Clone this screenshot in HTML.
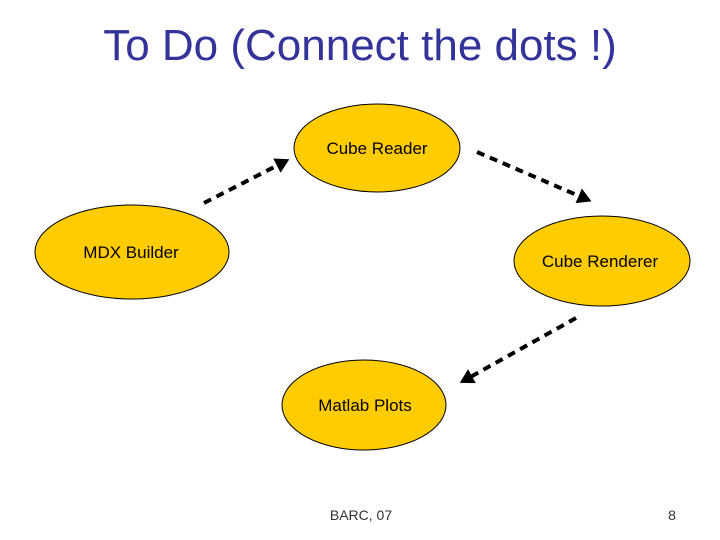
<!DOCTYPE html>
<html><head><meta charset="utf-8"><style>
html,body{margin:0;padding:0;background:#fff;}
svg{display:block;}
</style></head><body>
<svg width="720" height="540" viewBox="0 0 720 540" xmlns="http://www.w3.org/2000/svg" font-family="Liberation Sans, Arial, sans-serif">
<defs>
<marker id="a" markerWidth="4" markerHeight="4" refX="2" refY="2" orient="auto" markerUnits="strokeWidth">
<path d="M0,0 L3.5,2 L0,4 z" fill="#000"/></marker>
</defs>
<text x="360" y="60" text-anchor="middle" font-size="44" fill="#333399">To Do (Connect the dots !)</text>
<g fill="#FFCC00" stroke="#000" stroke-width="1">
<ellipse cx="377" cy="148" rx="83" ry="44"/>
<ellipse cx="132" cy="252" rx="97" ry="47"/>
<ellipse cx="602" cy="261" rx="88" ry="45"/>
<ellipse cx="364" cy="405" rx="82" ry="45"/>
</g>
<g font-size="17" fill="#000" text-anchor="middle">
<text x="377" y="154">Cube Reader</text>
<text x="131" y="258">MDX Builder</text>
<text x="600" y="267">Cube Renderer</text>
<text x="365" y="411">Matlab Plots</text>
</g>
<g stroke="#000" stroke-width="4" stroke-dasharray="8,6" fill="none" marker-end="url(#a)">
<line x1="204" y1="203" x2="284" y2="162"/>
<line x1="477" y1="152" x2="586" y2="199"/>
<line x1="576" y1="318" x2="465" y2="380"/>
</g>
<text x="361" y="520" text-anchor="middle" font-size="14" fill="#333">BARC, 07</text>
<text x="672" y="520" text-anchor="middle" font-size="14" fill="#333">8</text>
</svg>
</body></html>
